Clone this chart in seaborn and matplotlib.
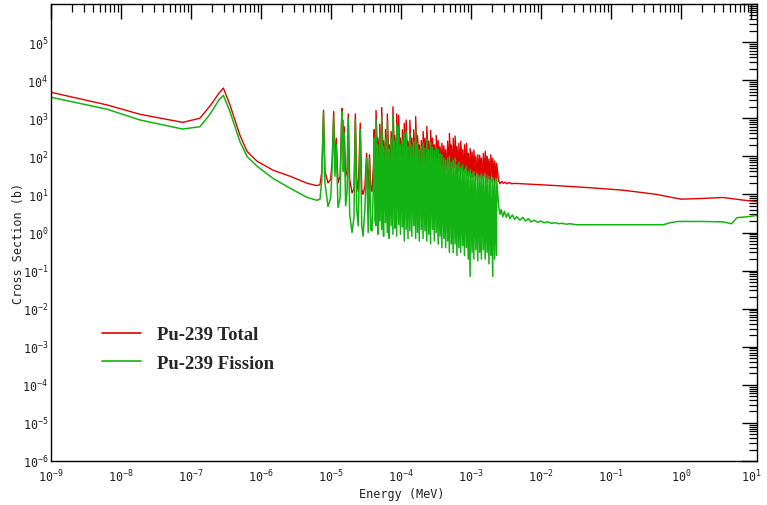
import numpy as np
import pandas as pd
import matplotlib
matplotlib.use("Agg")
import matplotlib.pyplot as plt
from matplotlib.ticker import LogLocator, FixedLocator, FixedFormatter, NullFormatter
from matplotlib.font_manager import FontProperties
import seaborn as sns

# ---------------------------------------------------------------------------
# Pu-239 neutron cross sections (energy in MeV, cross section in barns)
# ---------------------------------------------------------------------------

# thermal 1/v region and the 0.3 eV resonance
low_energy = [1e-9, 6.3e-9, 1.87e-8, 7.6e-8, 1.34e-7, 1.86e-7, 2.5e-7, 2.9e-7,
              3.6e-7, 5.0e-7, 6.3e-7, 8.8e-7, 1.5e-6, 2.6e-6, 4.6e-6, 6.3e-6]
low_total = [4800, 2240, 1270, 780, 1000, 2080, 4500, 6200,
             2240, 360, 135, 74, 43, 30, 19.5, 17]
low_fission = [3560, 1730, 900, 520, 600, 1260, 3000, 4000,
               1500, 245, 100, 55, 26, 14.5, 8.3, 7.0]

# first isolated resonances (7.8 eV .. 42 eV)
sparse_energy = [6.97e-6, 7.4e-6, 7.82e-6, 8.2e-6, 9.06e-6, 9.9e-6, 10.4e-6, 10.93e-6,
                 11.4e-6, 11.89e-6, 12.6e-6, 13.5e-6, 14.31e-6, 14.5e-6, 14.68e-6, 15.0e-6,
                 15.46e-6, 16.2e-6, 17.0e-6, 17.66e-6, 18.5e-6, 20.0e-6, 21.3e-6, 22.29e-6,
                 23.3e-6, 24.5e-6, 26.2e-6, 27.5e-6, 28.7e-6, 30.5e-6, 32.3e-6, 34.0e-6,
                 35.5e-6, 37.0e-6, 38.5e-6, 40.5e-6, 41.5e-6, 42.5e-6]
sparse_total = [18, 40, 1600, 40, 20, 25, 80, 1500,
                60, 300, 20, 30, 1800, 300, 900, 80,
                600, 30, 40, 1300, 25, 11, 14, 1300,
                25, 12, 740, 14, 10, 16, 120, 13,
                110, 15, 12, 60, 500, 30]
sparse_fission = [7.5, 25, 1400, 20, 4.8, 8, 50, 1100,
                  30, 200, 4.5, 8, 1500, 150, 600, 40,
                  400, 5, 12, 1000, 3, 1.0, 2.5, 900,
                  4, 1.5, 500, 1.5, 0.8, 4, 90, 1.0,
                  90, 1.2, 1.1, 20, 300, 2]

# dense resolved-resonance region (44 eV .. 2.5 keV): lower / upper value of each spike
dense_energy = [4.40e-5, 4.68e-5, 4.98e-5, 5.30e-5, 5.64e-5, 6.00e-5, 6.38e-5, 6.79e-5,
                7.22e-5, 7.68e-5, 8.17e-5, 8.69e-5, 9.25e-5, 9.84e-5, 1.047e-4, 1.114e-4,
                1.185e-4, 1.26e-4, 1.34e-4, 1.43e-4, 1.52e-4, 1.62e-4, 1.72e-4, 1.83e-4,
                1.95e-4, 2.07e-4, 2.20e-4, 2.34e-4, 2.49e-4, 2.65e-4, 2.82e-4, 3.00e-4,
                3.19e-4, 3.40e-4, 3.61e-4, 3.84e-4, 4.09e-4, 4.35e-4, 4.63e-4, 4.92e-4,
                5.24e-4, 5.57e-4, 5.93e-4, 6.31e-4, 6.71e-4, 7.14e-4, 7.60e-4, 8.08e-4,
                8.60e-4, 9.15e-4, 9.73e-4, 1.035e-3, 1.10e-3, 1.17e-3, 1.25e-3, 1.33e-3,
                1.41e-3, 1.50e-3, 1.60e-3, 1.70e-3, 1.81e-3, 1.92e-3, 2.05e-3, 2.18e-3,
                2.32e-3]
dense_total_lo = [60, 50, 70, 60, 50, 70, 60, 50, 70, 60, 60, 50, 70, 50, 60, 50,
                  70, 50, 60, 50, 70, 60, 50, 60, 50, 70, 50, 60, 50, 70, 50, 50,
                  60, 50, 45, 50, 40, 40, 45, 50, 40, 45, 50, 35, 40, 35, 40, 30,
                  35, 30, 30, 28, 30, 25, 28, 25, 28, 25, 28, 22, 25, 22, 24, 20,
                  22]
dense_total_hi = [1600, 300, 700, 1900, 250, 500, 1300, 200, 450, 2000, 350, 1300, 1200, 300, 500, 740,
                  900, 250, 880, 300, 500, 1100, 350, 200, 260, 450, 300, 610, 250, 480, 300, 200,
                  350, 260, 180, 220, 190, 150, 250, 400, 200, 300, 340, 180, 220, 250, 150, 200,
                  220, 120, 160, 130, 145, 100, 110, 107, 90, 120, 135, 100, 85, 110, 89, 75,
                  66]
dense_fission_lo = [1.5, 0.9, 2.0, 1.2, 0.8, 1.8, 1.0, 0.7, 1.5, 0.9, 1.3, 0.8, 1.6, 0.9, 1.4, 0.6,
                    1.2, 0.7, 1.1, 0.8, 1.5, 0.7, 1.0, 0.6, 1.2, 0.7, 1.1, 0.6, 0.9, 0.5, 1.2, 0.6,
                    1.0, 0.5, 0.8, 0.4, 0.7, 0.4, 0.6, 0.3, 0.5, 0.3, 0.5, 0.25, 0.4, 0.3, 0.45, 0.25,
                    0.4, 0.2, 0.07, 0.3, 0.2, 0.35, 0.18, 0.3, 0.2, 0.35, 0.2, 0.3, 0.15, 0.25, 0.07, 0.2,
                    0.25]
dense_fission_hi = [900, 200, 400, 1100, 180, 300, 800, 150, 300, 1200, 250, 700, 600, 200, 280, 400,
                    450, 180, 400, 200, 250, 500, 220, 150, 180, 220, 160, 280, 150, 230, 170, 140,
                    170, 150, 120, 110, 90, 80, 90, 100, 70, 80, 90, 60, 70, 50, 60, 45,
                    55, 40, 45, 35, 40, 30, 35, 30, 35, 30, 35, 25, 30, 25, 28, 22,
                    25]

# unresolved / fast region (2.5 keV .. 12 MeV)
high_total_energy = [2.5e-3, 2.6e-3, 2.75e-3, 2.9e-3, 3.1e-3, 3.3e-3, 3.5e-3, 3.8e-3,
                     4.2e-3, 5.5e-3, 1.7e-2, 5e-2, 0.15, 0.45, 1.0, 1.9, 4.0, 7.7, 12.0]
high_total = [22, 19, 22, 19.5, 21, 19, 20.5, 19,
              19.5, 19, 17, 15, 12.9, 10, 7.5, 7.8, 8.3, 7.1, 6.5]
high_fission_energy = [2.5e-3, 2.6e-3, 2.7e-3, 2.85e-3, 3.0e-3, 3.2e-3, 3.4e-3, 3.6e-3,
                       3.9e-3, 4.2e-3, 4.5e-3, 5e-3, 5.5e-3, 6e-3, 6.6e-3, 7.2e-3,
                       8e-3, 9e-3, 1e-2, 1.1e-2, 1.25e-2, 1.4e-2, 1.6e-2, 1.8e-2,
                       2.0e-2, 2.3e-2, 2.6e-2, 3.2e-2, 0.1, 0.3, 0.56, 0.7,
                       0.9, 2.0, 4.0, 5.3, 6.3, 9.0, 12.0]
high_fission = [4.5, 3.0, 4.0, 2.6, 3.6, 2.5, 3.2, 2.3,
                2.9, 2.2, 2.6, 2.1, 2.5, 2.0, 2.3, 1.9,
                2.1, 1.85, 2.0, 1.8, 1.9, 1.75, 1.8, 1.7,
                1.75, 1.65, 1.7, 1.6, 1.6, 1.6, 1.6, 1.8,
                1.95, 1.95, 1.9, 1.7, 2.45, 2.6, 2.8]

x_ticks = [1e-9, 1e-8, 1e-7, 1e-6, 1e-5, 1e-4, 1e-3, 1e-2, 1e-1, 1e0, 1e1]
x_tick_labels = [r"$\mathdefault{10^{-9}}$", r"$\mathdefault{10^{-8}}$", r"$\mathdefault{10^{-7}}$",
                 r"$\mathdefault{10^{-6}}$", r"$\mathdefault{10^{-5}}$", r"$\mathdefault{10^{-4}}$",
                 r"$\mathdefault{10^{-3}}$", r"$\mathdefault{10^{-2}}$", r"$\mathdefault{10^{-1}}$",
                 r"$\mathdefault{10^{0}}$", r"$\mathdefault{10^{1}}$"]
y_ticks = [1e-6, 1e-5, 1e-4, 1e-3, 1e-2, 1e-1, 1e0, 1e1, 1e2, 1e3, 1e4, 1e5, 1e6]
y_tick_labels = [r"$\mathdefault{10^{-6}}$", r"$\mathdefault{10^{-5}}$", r"$\mathdefault{10^{-4}}$",
                 r"$\mathdefault{10^{-3}}$", r"$\mathdefault{10^{-2}}$", r"$\mathdefault{10^{-1}}$",
                 r"$\mathdefault{10^{0}}$", r"$\mathdefault{10^{1}}$", r"$\mathdefault{10^{2}}$",
                 r"$\mathdefault{10^{3}}$", r"$\mathdefault{10^{4}}$", r"$\mathdefault{10^{5}}$", ""]


def spike_path(energy, lo, hi):
    """Each resonance spike is drawn as a vertical stroke from its lower to upper value."""
    xs = np.repeat(energy, 2)
    ys = np.column_stack([lo, hi]).ravel()
    return list(xs), list(ys)


dt_x, dt_y = spike_path(dense_energy, dense_total_lo, dense_total_hi)
df_x, df_y = spike_path(dense_energy, dense_fission_lo, dense_fission_hi)

total_df = pd.DataFrame({
    "energy": low_energy + sparse_energy + dt_x + high_total_energy,
    "sigma": low_total + sparse_total + dt_y + high_total,
})
fission_df = pd.DataFrame({
    "energy": low_energy + sparse_energy + df_x + high_fission_energy,
    "sigma": low_fission + sparse_fission + df_y + high_fission,
})

sns.set_style("white")
plt.rcParams["font.family"] = ["DejaVu Sans Mono", "DejaVu Sans"]
plt.rcParams["axes.linewidth"] = 1.0

fig = plt.figure(figsize=(7.67, 5.06), dpi=100)
ax = fig.add_axes([51 / 767, 1 - 462 / 506, 706 / 767, 457 / 506])
ax.set_xscale("log")
ax.set_yscale("log")

red = "#e00000"
green = "#12b312"
sns.lineplot(data=total_df, x="energy", y="sigma", sort=False, estimator=None,
             color=red, linewidth=1.0, ax=ax, label="Pu-239 Total")
sns.lineplot(data=fission_df, x="energy", y="sigma", sort=False, estimator=None,
             color=green, linewidth=1.1, ax=ax, label="Pu-239 Fission")

ax.set_xlim(1e-9, 12.2)
ax.set_ylim(1e-6, 1e6)

ax.xaxis.set_major_locator(FixedLocator(x_ticks))
ax.xaxis.set_major_formatter(FixedFormatter(x_tick_labels))
ax.yaxis.set_major_locator(FixedLocator(y_ticks))
ax.yaxis.set_major_formatter(FixedFormatter(y_tick_labels))
ax.xaxis.set_minor_locator(LogLocator(base=10, subs=np.arange(2, 10), numticks=100))
ax.yaxis.set_minor_locator(LogLocator(base=10, subs=np.arange(2, 10), numticks=100))
ax.xaxis.set_minor_formatter(NullFormatter())
ax.yaxis.set_minor_formatter(NullFormatter())

ax.tick_params(which="both", direction="in", top=True, right=True, color="black",
               labelsize=8.5, labelcolor="#222222")
ax.tick_params(which="major", length=11, width=1.0)
ax.tick_params(which="minor", length=5.5, width=0.9)
ax.tick_params(axis="y", which="major", pad=2)
ax.tick_params(axis="x", which="major", pad=5)

for side in ax.spines.values():
    side.set_color("black")
    side.set_linewidth(1.0)

ax.set_xlabel("Energy (MeV)", fontsize=8.5, color="#222222")
ax.set_ylabel("Cross Section (b)", fontsize=8.5, color="#222222")
ax.xaxis.set_label_coords(0.497, -0.056)
ax.yaxis.set_label_coords(-0.037, 0.479)

legend_font = FontProperties(family="Liberation Serif", weight="bold", size=13.5)
leg = ax.legend(loc="center left", bbox_to_anchor=(0.072, 0.245), frameon=False,
                prop=legend_font, handlelength=2.1, handletextpad=0.85,
                labelspacing=0.62, borderpad=0, borderaxespad=0)
for line in leg.get_lines():
    line.set_linewidth(1.2)

fig.savefig("out.png", dpi=100, facecolor="white")
